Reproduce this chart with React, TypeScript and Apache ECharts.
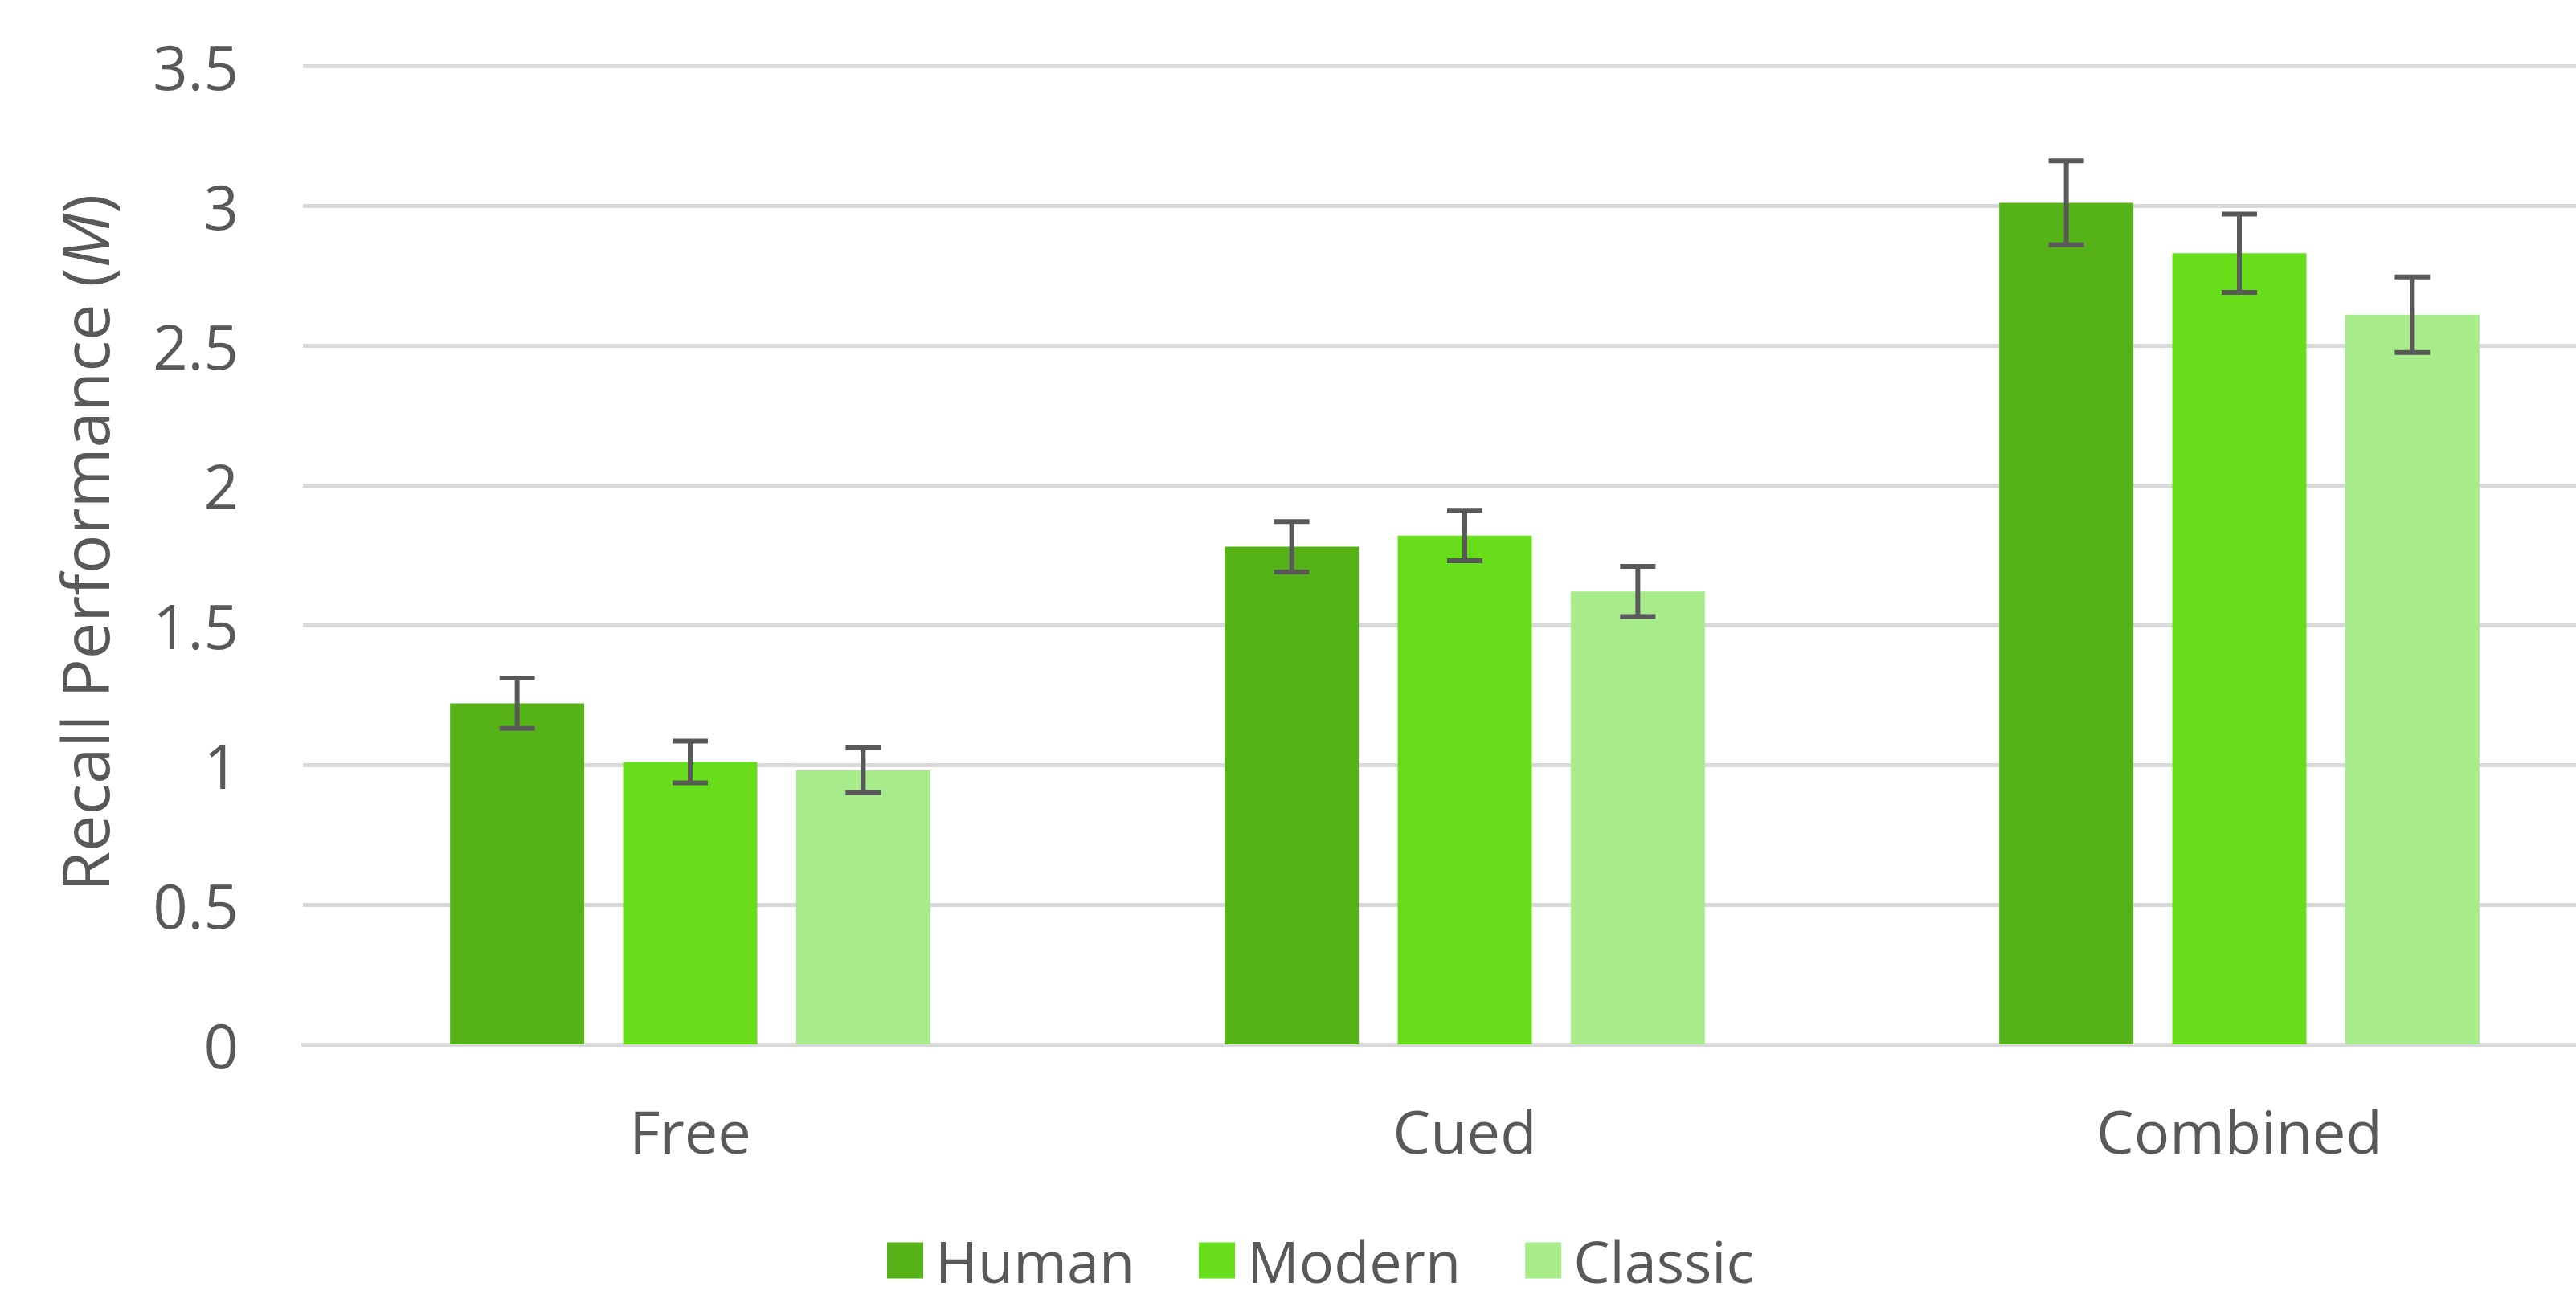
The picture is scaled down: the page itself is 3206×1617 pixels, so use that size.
import React, { useEffect, useRef } from "react";
import * as echarts from "echarts";

const categories = ["Free", "Cued", "Combined"];
const seriesNames = ["Human", "Modern", "Classic"];
const humanValues = [1.22, 1.78, 3.01];
const modernValues = [1.01, 1.82, 2.83];
const classicValues = [0.98, 1.62, 2.61];
const humanErrors = [0.09, 0.09, 0.15];
const modernErrors = [0.075, 0.09, 0.14];
const classicErrors = [0.08, 0.09, 0.135];
const yTicks = { min: 0, max: 3.5, interval: 0.5 };

const colors = ["#56B317", "#68DE1A", "#A8EB8A"];
const textColor = "#595959";
const gridColor = "#D9D9D9";
const FONT = "'Open Sans', 'Noto Sans', sans-serif";

const CAT_GAP = 0.38;
const BAR_GAP = 0.29;

export default function App() {
  const ref = useRef<HTMLDivElement>(null);

  useEffect(() => {
    if (!ref.current) return;
    const chart = echarts.init(ref.current, undefined, { renderer: "svg" });

    const values = [humanValues, modernValues, classicValues];
    const errors = [humanErrors, modernErrors, classicErrors];
    const errData: number[][] = [];
    values.forEach((vals, s) => {
      vals.forEach((v, c) => {
        errData.push([c, s, v - errors[s][c], v + errors[s][c]]);
      });
    });

    const option: any = {
      animation: false,
      backgroundColor: "#ffffff",
      textStyle: { fontFamily: FONT },
      grid: {
        left: 377,
        top: 82,
        width: 2892,
        height: 1218,
        containLabel: false,
        outerBoundsMode: "none",
      },
      legend: {
        data: seriesNames,
        left: 1099,
        top: 1528,
        itemWidth: 45,
        itemHeight: 45,
        itemGap: 80,
        icon: "rect",
        textStyle: { color: textColor, fontSize: 72, fontFamily: FONT, padding: [0, 0, 0, 10] },
      },
      xAxis: {
        type: "category",
        data: categories,
        axisLine: { show: true, lineStyle: { color: gridColor, width: 5 } },
        axisTick: { show: false },
        axisLabel: { color: textColor, fontSize: 74, margin: 70, fontFamily: FONT },
      },
      yAxis: {
        type: "value",
        min: yTicks.min,
        max: yTicks.max,
        interval: yTicks.interval,
        axisLine: { show: false },
        axisTick: { show: false },
        axisLabel: { color: textColor, fontSize: 76, margin: 80, fontFamily: FONT },
        splitLine: { lineStyle: { color: gridColor, width: 5 } },
      },
      graphic: [
        {
          type: "text",
          x: 104,
          y: 676,
          rotation: Math.PI / 2,
          style: {
            text: "{a|Recall Performance (}{b|M}{a|)}",
            align: "center",
            verticalAlign: "middle",
            rich: {
              a: { fontSize: 81, fill: textColor, fontFamily: FONT },
              b: { fontSize: 81, fill: textColor, fontFamily: FONT, fontStyle: "italic" },
            },
          },
        },
      ],
      series: [
        ...seriesNames.map((name, i) => ({
          name,
          type: "bar",
          data: values[i],
          itemStyle: { color: colors[i] },
          barGap: `${BAR_GAP * 100}%`,
          barCategoryGap: `${CAT_GAP * 100}%`,
        })),
        {
          type: "custom",
          name: "errors",
          data: errData,
          encode: { x: 0, y: [2, 3] },
          z: 10,
          renderItem: (params: any, api: any) => {
            const c = api.value(0);
            const s = api.value(1);
            const lo = api.value(2);
            const hi = api.value(3);
            const band = api.size([1, 0])[0];
            const avail = band * (1 - CAT_GAP);
            const bw = avail / (3 + 2 * BAR_GAP);
            const offset = (s - 1) * bw * (1 + BAR_GAP);
            const pLo = api.coord([c, lo]);
            const pHi = api.coord([c, hi]);
            const x = pLo[0] + offset;
            const half = 22;
            const style = { stroke: "#595959", lineWidth: 6, fill: "none" };
            return {
              type: "group",
              children: [
                { type: "line", shape: { x1: x, y1: pLo[1], x2: x, y2: pHi[1] }, style },
                { type: "line", shape: { x1: x - half, y1: pLo[1], x2: x + half, y2: pLo[1] }, style },
                { type: "line", shape: { x1: x - half, y1: pHi[1], x2: x + half, y2: pHi[1] }, style },
              ],
            };
          },
        },
      ],
    };

    chart.setOption(option);
    return () => chart.dispose();
  }, []);

  return (
    <div
      ref={ref}
      style={{ position: "absolute", left: 0, top: 0, width: "3206px", height: "1617px" }}
    />
  );
}
